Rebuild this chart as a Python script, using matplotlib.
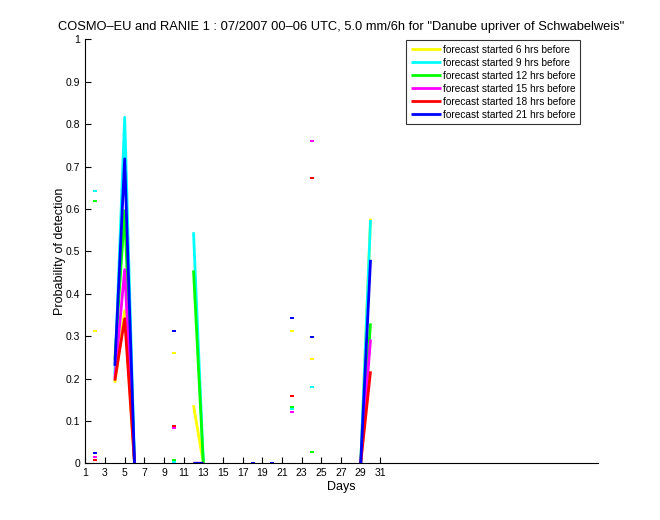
import numpy as np
import matplotlib
matplotlib.use("Agg")
import matplotlib.pyplot as plt

plt.rcParams['font.family'] = ['Liberation Sans', 'DejaVu Sans']

days = np.arange(1, 32)
series_names = ["forecast started 6 hrs before", "forecast started 9 hrs before",
                "forecast started 12 hrs before", "forecast started 15 hrs before",
                "forecast started 18 hrs before", "forecast started 21 hrs before"]
colors = ["#ffff00", "#00ffff", "#00ff00", "#ff00ff", "#ff0000", "#0000ff"]

nan = np.nan
# values per day (1..31), NaN = no value
yellow = {2: 0.313, 4: 0.19, 5: 0.36, 6: 0.0, 10: 0.26, 12: 0.137, 13: 0.0, 22: 0.313, 24: 0.246, 29: 0.0, 30: 0.577}
cyan = {2: 0.643, 4: 0.21, 5: 0.816, 6: 0.0, 10: 0.002, 12: 0.545, 13: 0.0, 22: 0.129, 24: 0.18, 29: 0.0, 30: 0.574}
green = {2: 0.618, 4: 0.245, 5: 0.596, 6: 0.0, 10: 0.007, 12: 0.455, 13: 0.0, 22: 0.133, 24: 0.027, 29: 0.0, 30: 0.33}
magenta = {2: 0.016, 4: 0.2, 5: 0.457, 6: 0.0, 10: 0.083, 12: 0.0, 13: 0.0, 22: 0.121, 24: 0.761, 29: 0.0, 30: 0.292}
red = {2: 0.007, 4: 0.195, 5: 0.341, 6: 0.0, 10: 0.087, 12: 0.0, 13: 0.0, 22: 0.158, 24: 0.674, 29: 0.0, 30: 0.217}
blue = {2: 0.024, 4: 0.23, 5: 0.718, 6: 0.0, 10: 0.313, 12: 0.0, 13: 0.0, 18: 0.0, 20: 0.0, 22: 0.342, 24: 0.297, 29: 0.0, 30: 0.48}
all_series = [yellow, cyan, green, magenta, red, blue]

rect_marker = [(-1.5, -1.0), (1.5, -1.0), (1.5, 1.0), (-1.5, 1.0), (-1.5, -1.0)]

fig = plt.figure(figsize=(6.6, 5.2), dpi=100)
ax = fig.add_axes([0.1293, 0.109, 0.9056 - 0.1293, 0.9244 - 0.109])

for vals, c, name in zip(all_series, colors, series_names):
    y = np.array([vals.get(int(d), nan) for d in days])
    ax.plot(days, y, color=c, lw=2.0, label=name, solid_capstyle='butt')
    # isolated points
    iso = []
    for i in range(len(y)):
        if np.isnan(y[i]):
            continue
        left = np.isnan(y[i - 1]) if i > 0 else True
        right = np.isnan(y[i + 1]) if i < len(y) - 1 else True
        if left and right:
            iso.append(i)
    if iso:
        ax.plot(days[iso], y[iso], linestyle='none', marker=rect_marker, markersize=2.6,
                markerfacecolor=c, markeredgewidth=0, color=c)

ax.set_xlim(1, 53.1)
ax.set_ylim(0, 1)
ax.set_xticks(np.arange(1, 32, 2))
ax.set_yticks(np.arange(0, 1.01, 0.1))
ax.set_yticklabels(["0", "0.1", "0.2", "0.3", "0.4", "0.5", "0.6", "0.7", "0.8", "0.9", "1"])
ax.spines['top'].set_visible(False)
ax.spines['right'].set_visible(False)
ax.tick_params(direction='in', length=4, labelsize=7.5, width=0.8)
ax.set_xlabel("Days", fontsize=9, labelpad=2)
ax.set_ylabel("Probability of detection", fontsize=9, labelpad=0)
ax.set_title('COSMO\u2013EU and RANIE 1 : 07/2007 00\u201306 UTC, 5.0 mm/6h for "Danube upriver of Schwabelweis"',
             fontsize=9.3, pad=7)

leg = ax.legend(loc='upper right', bbox_to_anchor=(580 / 660, 1 - 40 / 520),
                bbox_transform=fig.transFigure, fontsize=7.3, frameon=True,
                fancybox=False, edgecolor='black', handlelength=3.0,
                handletextpad=0.15, labelspacing=0.3, borderpad=0.45, borderaxespad=0)
leg.get_frame().set_linewidth(0.8)

fig.savefig("out.png", dpi=100)
